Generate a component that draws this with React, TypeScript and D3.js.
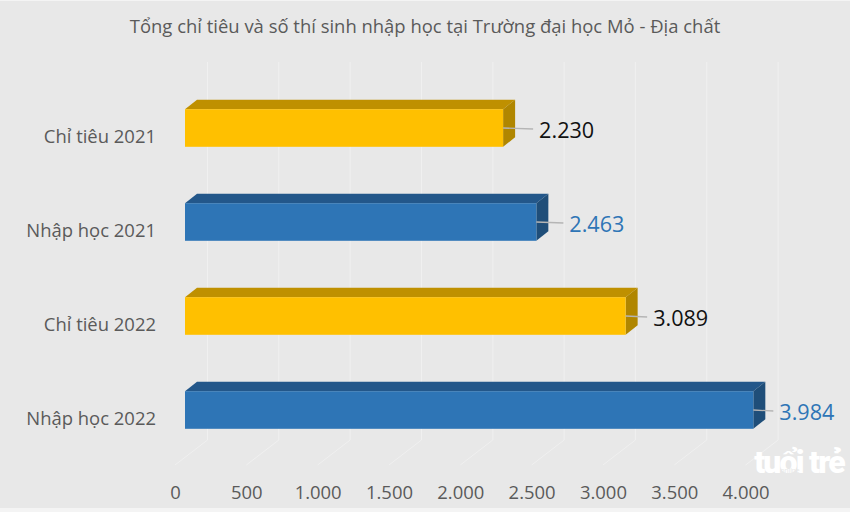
import React from 'react';
import * as d3 from 'd3';

const categories = ['Chỉ tiêu 2021', 'Nhập học 2021', 'Chỉ tiêu 2022', 'Nhập học 2022'];
const values = [2230, 2463, 3089, 3984];
const valueLabels = ['2.230', '2.463', '3.089', '3.984'];
const ticks = [0, 500, 1000, 1500, 2000, 2500, 3000, 3500, 4000];
const tickLabels = ['0', '500', '1.000', '1.500', '2.000', '2.500', '3.000', '3.500', '4.000'];
// gap between bar end and its label, as placed in the original chart
const labelGaps = [36, 33, 27.5, 26];

const FONT = '"Open Sans", "Noto Sans", sans-serif';
const yellow = { front: '#ffc000', top: '#bf9000', side: '#b08600', label: '#111111' };
const blue = { front: '#2e75b6', top: '#23578a', side: '#1f4e79', label: '#2e75b6' };

const x = d3.scaleLinear().domain([0, 4000]).range([185, 755.6]);
const y = d3.scaleBand().domain(categories).range([81, 457]).paddingInner(0.6).paddingOuter(0.3);

// depth of the 3d bar and of the back wall
const dx = 12, dy = 9.5;
const wallX = 22.5;

export default function App() {
  return (
    <svg width={850} height={512} style={{ position: 'fixed', left: 0, top: 0, fontFamily: FONT }}>
      <rect width={850} height={512} fill="#e8e8e8" />
      <rect width={850} height={1} fill="#f4f4f4" />
      <rect y={508} width={850} height={4} fill="#f4f4f4" />
      <text x={425} y={33} textAnchor="middle" fontSize={18.45} fill="#5a5a5a">
        Tổng chỉ tiêu và số thí sinh nhập học tại Trường đại học Mỏ - Địa chất
      </text>

      {/* grid on the back wall, running out over the floor */}
      {ticks.map(t => (
        <path
          key={t}
          d={`M${x(t) + wallX},62V440L${x(t) - 10},465`}
          fill="none"
          stroke="#f0f0f0"
          strokeWidth={1}
        />
      ))}

      {categories.map((c, i) => {
        const col = i % 2 === 0 ? yellow : blue;
        const top = y(c) as number;
        const h = y.bandwidth();
        const x0 = x(0);
        const x1 = x(values[i]);
        const mid = top + h / 2;
        const gap = labelGaps[i];
        return (
          <g key={c}>
            <path d={`M${x0},${top}l${dx},${-dy}H${x1 + dx}l${-dx},${dy}Z`} fill={col.top} />
            <path d={`M${x1},${top}l${dx},${-dy}v${h}l${-dx},${dy}Z`} fill={col.side} />
            <rect x={x0} y={top} width={x1 - x0} height={h} fill={col.front} />
            <line x1={x1} x2={x1 + gap - 6} y1={mid} y2={mid + 1} stroke="#b5b5b5" strokeWidth={1.3} />
            <text x={x1 + gap} y={mid + 10} fontSize={21.6} fill={col.label}>{valueLabels[i]}</text>
            <text x={156} y={mid + 15} textAnchor="end" fontSize={18.45} fill="#5a5a5a">{c}</text>
          </g>
        );
      })}

      {ticks.map((t, i) => (
        <text key={t} x={x(t) - 9.5} y={498.5} textAnchor="middle" fontSize={18.45} fill="#5a5a5a">
          {tickLabels[i]}
        </text>
      ))}

      <g textAnchor="middle" fontFamily='"Roboto", sans-serif'>
        <text x={799} y={473} fontSize={32} fontWeight={900} fill="#ffffff" letterSpacing={-1.8}>
          tuổi trẻ
        </text>
        <text x={790} y={473} fontSize={7} fill="#e8e8e8">online</text>
      </g>
    </svg>
  );
}
